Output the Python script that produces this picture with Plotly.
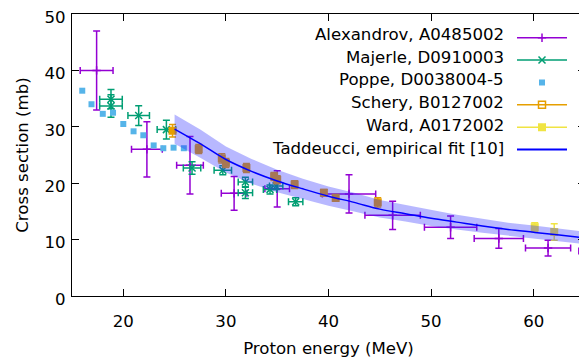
import plotly.graph_objects as go

# ---------------- data ----------------
alex_x = [17.4, 22.3, 26.5, 30.8, 35.0, 42.0, 46.25, 51.9, 56.6, 61.4, 66.7]
alex_y = [40.0, 26.0, 23.2, 18.2, 19.0, 18.1, 14.3, 12.2, 10.2, 8.5, 8.0]
alex_dx = [1.6, 1.5, 1.3, 1.25, 1.2, 2.6, 2.7, 2.55, 2.4, 2.2, 2.3]
alex_dy = [7.0, 4.9, 5.1, 3.0, 3.2, 3.4, 2.5, 2.0, 1.75, 1.4, 1.3]

maj_x = [18.8, 18.8, 21.5, 24.2, 26.7, 29.7, 31.9, 31.9, 34.3, 34.9, 36.8]
maj_y = [34.9, 33.7, 32.0, 29.5, 22.7, 22.3, 20.2, 18.3, 18.9, 19.5, 16.7]
maj_dx = [1.1, 1.1, 1.05, 0.9, 0.85, 0.85, 0.7, 0.7, 0.65, 0.65, 0.7]
maj_dy = [1.7, 2.0, 1.75, 1.65, 1.1, 0.8, 0.85, 1.0, 0.8, 0.6, 0.7]

poppe_x = [16.0, 16.9, 18.0, 19.0, 20.0, 21.0, 21.95, 22.96, 23.9, 24.9, 25.9]
poppe_y = [36.4, 34.0, 32.3, 32.5, 30.5, 29.2, 28.5, 26.7, 26.2, 26.3, 26.2]

schery_x = [24.8, 27.35, 29.6, 30.0, 32.0, 34.7, 35.0, 36.7, 39.55, 40.7, 44.8]
schery_y = [29.3, 26.05, 24.4, 23.6, 22.7, 21.2, 20.6, 19.75, 18.3, 17.4, 16.6]
schery_dy = [1.1, 0.8, 0.8, 0.8, 0.8, 0.7, 0.7, 0.7, 0.6, 0.6, 0.8]

ward_x = [60.1, 62.0]
ward_y = [12.2, 11.35]
ward_dy = [0.8, 1.45]

fit_x = [25, 27.5, 30, 32.5, 35, 37.5, 40, 42.5, 45, 47.5, 50, 52.5, 55, 57.5, 60, 62.5, 65]
fit_y = [29.6, 27.0, 24.2, 22.1, 20.4, 19.0, 17.7, 16.6, 15.4, 14.6, 13.8, 13.1, 12.4, 11.8, 11.3, 10.8, 10.3]
fit_hi = [32.2, 29.5, 26.5, 24.3, 22.4, 20.8, 19.4, 18.3, 17.0, 16.1, 15.2, 14.4, 13.7, 13.0, 12.5, 11.9, 11.4]
fit_lo = [27.0, 24.5, 21.9, 19.9, 18.4, 17.2, 16.0, 15.0, 13.9, 13.2, 12.4, 11.8, 11.2, 10.6, 10.1, 9.7, 9.2]

names = ["Alexandrov, A0485002", "Majerle, D0910003", "Poppe, D0038004-5",
         "Schery, B0127002", "Ward, A0172002", "Taddeucci, empirical fit [10]"]

C_ALEX = "#9400D3"
C_MAJ = "#009E73"
C_POP = "#56B4E9"
C_SCH = "#E69F00"
C_WARD = "#F0E442"
C_FIT = "#0000FF"

FONT = "DejaVu Sans"
FS = 16.6

fig = go.Figure()

def ebar(arr, color, w=3.5):
    return dict(type="data", array=arr, visible=True, color=color, thickness=1.5, width=w)

fig.add_trace(go.Scatter(x=alex_x, y=alex_y, mode="markers", showlegend=False,
                         marker=dict(symbol="cross-thin", size=6, line=dict(color=C_ALEX, width=1.5)),
                         error_x=ebar(alex_dx, C_ALEX), error_y=ebar(alex_dy, C_ALEX)))
fig.add_trace(go.Scatter(x=maj_x, y=maj_y, mode="markers", showlegend=False,
                         marker=dict(symbol="x-thin", size=7, line=dict(color=C_MAJ, width=1.5)),
                         error_x=ebar(maj_dx, C_MAJ), error_y=ebar(maj_dy, C_MAJ)))
fig.add_trace(go.Scatter(x=poppe_x, y=poppe_y, mode="markers", showlegend=False,
                         marker=dict(symbol="square", size=6, color=C_POP)))
fig.add_trace(go.Scatter(x=schery_x, y=schery_y, mode="markers", showlegend=False,
                         marker=dict(symbol="square", size=8, color=C_SCH),
                         error_y=ebar(schery_dy, C_SCH)))
fig.add_trace(go.Scatter(x=ward_x, y=ward_y, mode="markers", showlegend=False,
                         marker=dict(symbol="square", size=8, color=C_WARD),
                         error_y=ebar(ward_dy, C_WARD)))
# uncertainty band of the fit
fig.add_trace(go.Scatter(x=fit_x + fit_x[::-1], y=fit_hi + fit_lo[::-1], mode="lines",
                         fill="toself", fillcolor="rgba(40,40,255,0.33)",
                         line=dict(width=0), showlegend=False, hoverinfo="skip"))
fig.add_trace(go.Scatter(x=fit_x, y=fit_y, mode="lines", showlegend=False,
                         line=dict(color=C_FIT, width=1.5, shape="spline")))

# legend samples (no data; names drawn right-aligned as annotations like gnuplot)
leg_styles = [
    dict(mode="lines+markers", line=dict(color=C_ALEX, width=1.5),
         marker=dict(symbol="cross-thin", size=6, line=dict(color=C_ALEX, width=1.5))),
    dict(mode="lines+markers", line=dict(color=C_MAJ, width=1.5),
         marker=dict(symbol="x-thin", size=7, line=dict(color=C_MAJ, width=1.5))),
    dict(mode="markers", marker=dict(symbol="square", size=6, color=C_POP)),
    dict(mode="lines+markers", line=dict(color=C_SCH, width=1.5),
         marker=dict(symbol="square-open", size=7, color=C_SCH, line=dict(width=1.5))),
    dict(mode="lines+markers", line=dict(color=C_WARD, width=1.5),
         marker=dict(symbol="square", size=8, color=C_WARD)),
    dict(mode="lines", line=dict(color=C_FIT, width=2)),
]
for st in leg_styles:
    fig.add_trace(go.Scatter(x=[None], y=[None], name=" ", showlegend=True, **st))

# page offset of the figure inside the html body (default 8px body margin)
OFF = 8
W, H = 587, 360
# desired plot area in page pixels
PX0, PX1, PY0, PY1 = 72, 585, 14, 296
L = PX0 - OFF
T = PY0 - OFF
R = W - (PX1 - OFF)
B = H - (PY1 - OFF)
pw, ph = PX1 - PX0, PY1 - PY0

def px2paper_x(px):
    return (px - PX0) / pw

def px2paper_y(py):
    return (PY1 - py) / ph

row0, rowgap = 32.5, 22.7
for i, nm in enumerate(names):
    fig.add_annotation(text=nm, xref="paper", yref="paper",
                       x=px2paper_x(506), y=px2paper_y(row0 + 2 + i * rowgap),
                       xanchor="right", yanchor="middle", showarrow=False,
                       font=dict(family=FONT, size=FS, color="black"))

axis_common = dict(showline=True, linecolor="black", linewidth=1, mirror="ticks",
                   ticks="inside", ticklen=7, tickcolor="black", tickwidth=1,
                   showgrid=False, zeroline=False, dtick=10, ticklabeloverflow="allow",
                   tickfont=dict(family=FONT, size=FS, color="black"))

fig.update_layout(
    width=W, height=H,
    margin=dict(l=L, r=R, t=T, b=B, autoexpand=False),
    plot_bgcolor="white", paper_bgcolor="white",
    font=dict(family=FONT, size=FS, color="black"),
    xaxis=dict(range=[15, 65], title=dict(text="Proton energy (MeV)", standoff=12,
                                          font=dict(family=FONT, size=FS)),
               ticklabelstandoff=10, automargin=False, **axis_common),
    yaxis=dict(range=[0, 50], title=dict(text="Cross section (mb)", standoff=11,
                                         font=dict(family=FONT, size=FS)),
               ticklabelstandoff=2, ticklabelshift=3, automargin=False, **axis_common),
    legend=dict(x=px2paper_x(512), y=px2paper_y(21.5), xanchor="left", yanchor="top",
                bgcolor="rgba(0,0,0,0)", borderwidth=0,
                font=dict(family=FONT, size=14.9), itemwidth=50),
)

fig.write_html("out.html")
